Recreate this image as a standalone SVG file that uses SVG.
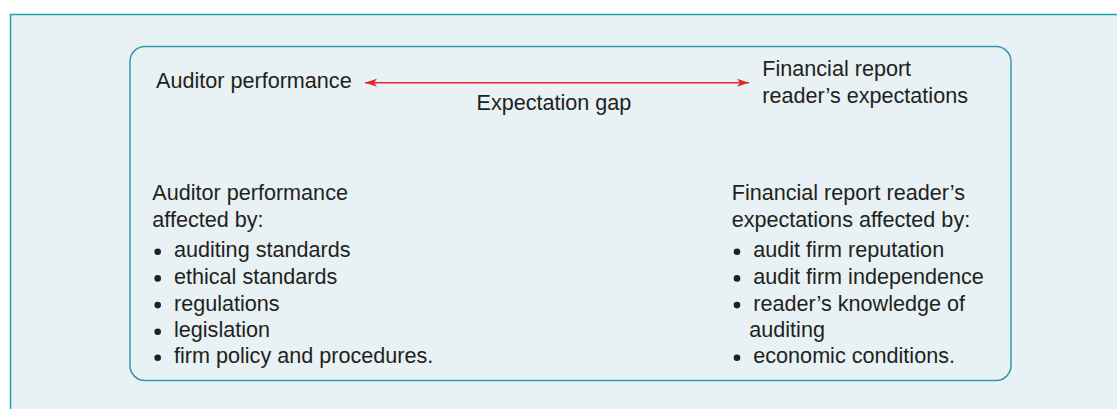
<svg xmlns="http://www.w3.org/2000/svg" width="1117" height="409" viewBox="0 0 1117 409">
<style>
text{font-family:"Liberation Sans",Arial,sans-serif;font-size:21.6px;fill:#231f20}
.dot{fill:#231f20}
</style>
<defs>
<marker id="ah" viewBox="0 0 12 8" refX="12" refY="4" markerWidth="12" markerHeight="8" markerUnits="userSpaceOnUse" orient="auto-start-reverse">
<path d="M0,0 L12,4 L0,8 L3,4 Z" fill="#e0282a"/>
</marker>
</defs>
<rect x="0" y="0" width="1117" height="409" fill="#ffffff"/>
<rect id="frame" x="10.5" y="14.5" width="1120" height="400" fill="#e8f1f3" stroke="#1aa4ac" stroke-width="1.5"/>
<rect id="panel" x="130" y="46.5" width="881" height="334" rx="15" fill="none" stroke="#3596b0" stroke-width="1.5"/>
<g id="connectors">
<line x1="365" y1="82.7" x2="749" y2="82.7" stroke="#e0282a" stroke-width="1.5" marker-start="url(#ah)" marker-end="url(#ah)"/>
<text x="476.5" y="110">Expectation gap</text>
</g>
<g id="auditor-performance">
<text x="156" y="88.3">Auditor performance</text>
</g>
<g id="reader-expectations">
<text x="762.3" y="75.7">Financial report</text>
<text x="762.3" y="102.7">reader’s expectations</text>
</g>
<g id="auditor-factors">
<text x="152.3" y="200">Auditor performance</text>
<text x="152.3" y="226.7">affected by:</text>
<circle class="dot" cx="157.7" cy="251.7" r="3.3"/>
<text x="174" y="257.3">auditing standards</text>
<circle class="dot" cx="157.7" cy="278.4" r="3.3"/>
<text x="174" y="284">ethical standards</text>
<circle class="dot" cx="157.7" cy="305.1" r="3.3"/>
<text x="174" y="310.7">regulations</text>
<circle class="dot" cx="157.7" cy="331.7" r="3.3"/>
<text x="174" y="337.3">legislation</text>
<circle class="dot" cx="157.7" cy="357.7" r="3.3"/>
<text x="174" y="363.3">firm policy and procedures.</text>
</g>
<g id="reader-factors">
<text x="731.7" y="200">Financial report reader’s</text>
<text x="731.7" y="226.7">expectations affected by:</text>
<circle class="dot" cx="737" cy="251.7" r="3.3"/>
<text x="753.3" y="257.3">audit firm reputation</text>
<circle class="dot" cx="737" cy="278.4" r="3.3"/>
<text x="753.3" y="284">audit firm independence</text>
<circle class="dot" cx="737" cy="305.1" r="3.3"/>
<text x="753.3" y="310.7">reader’s knowledge of</text>
<text x="749.3" y="337.3">auditing</text>
<circle class="dot" cx="737" cy="357.7" r="3.3"/>
<text x="753.3" y="363.3">economic conditions.</text>
</g>
</svg>
